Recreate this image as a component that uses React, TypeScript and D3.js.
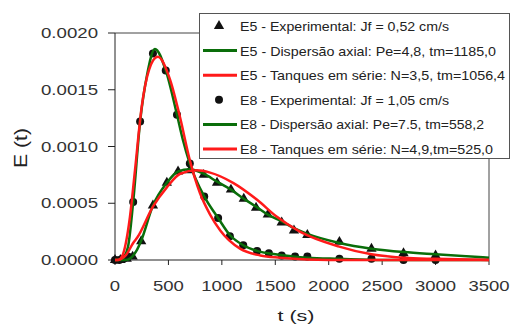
import React from "react"
import * as d3 from "d3"

// experimental points
const tE5 = [0, 50, 110, 165, 245, 355, 485, 590, 700, 830, 955, 1085, 1205, 1320, 1430, 1560, 1675, 1800, 2100, 2400, 2700, 3000]
const eE5 = [0, 0, 0.00001, 0.00003, 0.000165, 0.00048, 0.00068, 0.00078, 0.00079, 0.00075, 0.00068, 0.00062, 0.00054, 0.00046, 0.0004, 0.00033, 0.00026, 0.00022, 0.00016, 0.0001, 0.00006, 0.00004]

const tE8 = [0, 40, 80, 120, 170, 235, 355, 475, 580, 700, 835, 965, 1075, 1200, 1330, 1440, 1560, 1685, 1800, 2100, 2400, 2700, 3000]
const eE8 = [0, 0, 0.00001, 0.00003, 0.00051, 0.00122, 0.00182, 0.00167, 0.00128, 0.00085, 0.00056, 0.00037, 0.00021, 0.00013, 0.00008, 0.00006, 0.00004, 0.00003, 0.00003, 0.00001, 0.00001, 0, 0]

// model curves
const tE5Disp = [0, 100, 150, 200, 245, 355, 485, 590, 700, 830, 955, 1085, 1205, 1320, 1430, 1560, 1675, 1800, 2100, 2400, 2700, 3000, 3500]
const eE5Disp = [0, 0, 0.00002, 0.00008, 0.00017, 0.00048, 0.00068, 0.00078, 0.0008, 0.00076, 0.00069, 0.00062, 0.00054, 0.00047, 0.0004, 0.00034, 0.00028, 0.00023, 0.00015, 0.0001, 0.00007, 0.00005, 0.00002]

const tE5Tanq = [0, 20, 100, 170, 210, 355, 485, 610, 765, 890, 1105, 1330, 1515, 1730, 2090, 2400, 2700, 3000, 3500]
const eE5Tanq = [0, 0, 0.00004, 0.00015, 0.0002, 0.00047, 0.00064, 0.00076, 0.00079, 0.00077, 0.00068, 0.00053, 0.00038, 0.00025, 0.00012, 0.00005, 0.00002, 0.00001, 0]

const tE8Disp = [0, 60, 120, 170, 235, 300, 374, 475, 580, 635, 700, 835, 965, 1075, 1200, 1330, 1500, 1800, 2100, 2500, 3500]
const eE8Disp = [0, 0.000005, 0.00011, 0.00051, 0.00122, 0.00163, 0.00186, 0.00167, 0.00128, 0.00106, 0.00085, 0.00056, 0.00037, 0.00022, 0.00013, 0.00008, 0.00005, 0.00002, 0.00001, 0, 0]

const tE8Tanq = [0, 30, 65, 140, 187, 250, 320, 400, 515, 608, 700, 795, 890, 985, 1170, 1360, 1545, 1800, 2200, 3500]
const eE8Tanq = [0, 0, 0.00003, 0.00038, 0.00079, 0.00135, 0.00168, 0.00179, 0.00159, 0.00126, 0.00088, 0.00059, 0.0004, 0.00026, 0.0001, 0.00004, 0.00002, 0.000005, 0, 0]

const xTicks = [0, 500, 1000, 1500, 2000, 2500, 3000, 3500]
const yTicks = [0, 0.0005, 0.001, 0.0015, 0.002]

const legendLabels = [
  "E5 - Experimental: Jf = 0,52 cm/s",
  "E5 - Dispersão axial: Pe=4,8, tm=1185,0",
  "E5 - Tanques em série: N=3,5, tm=1056,4",
  "E8 - Experimental: Jf = 1,05 cm/s",
  "E8 - Dispersão axial: Pe=7.5, tm=558,2",
  "E8 - Tanques em série: N=4,9,tm=525,0"
]
const legendWidths = [209, 256, 265, 209, 244, 253]

const GREEN = "#0a6e0a"
const RED = "#ff1a1a"
const TXT = "#333"

const width = 512
const height = 327

const x = d3.scaleLinear().domain([0, 3500]).range([115, 489])
const y = d3.scaleLinear().domain([0, 0.002]).range([260, 33])

const line = d3
  .line<[number, number]>()
  .x(d => x(d[0]))
  .y(d => y(d[1]))
  .curve(d3.curveMonotoneX)

const zip = (t: number[], e: number[]) => t.map((v, i) => [v, e[i]] as [number, number])

// stretched-looking numbers like in the original
const numLen = (s: string) => s.split("").reduce((a, c) => a + (c === "." ? 5.5 : 10.3), 0)

const tri = d3.symbol().type(d3.symbolTriangle).size(46)()

export default function App() {
  const curves = [
    { d: zip(tE5Disp, eE5Disp), c: GREEN },
    { d: zip(tE8Disp, eE8Disp), c: GREEN },
    { d: zip(tE5Tanq, eE5Tanq), c: RED },
    { d: zip(tE8Tanq, eE8Tanq), c: RED }
  ]

  return (
    <svg
      width={width}
      height={height}
      style={{ position: "absolute", left: 0, top: 0, background: "white" }}
      fontFamily="'Liberation Sans', Arial, sans-serif"
    >
      <rect width={width} height={height} fill="white" />

      {/* frame */}
      <path
        d={`M${x(0)},${y(0.002)}H${x(3500)}V${y(0)}`}
        fill="none"
        stroke="#444"
        strokeWidth={1}
      />
      <line x1={x(0)} x2={x(0)} y1={y(0.002)} y2={y(0)} stroke="#222" />
      <line x1={x(0)} x2={x(3500)} y1={y(0)} y2={y(0)} stroke="#222" />

      {yTicks.map(v => {
        const s = v.toFixed(4)
        return (
          <g key={s}>
            <line x1={108} x2={x(0)} y1={y(v)} y2={y(v)} stroke="#222" />
            <text
              x={98}
              y={y(v) + 5}
              textAnchor="end"
              fontSize={14}
              fill={TXT}
              textLength={numLen(s)}
              lengthAdjust="spacingAndGlyphs"
            >
              {s}
            </text>
          </g>
        )
      })}

      {xTicks.map(v => (
        <g key={v}>
          <line x1={x(v)} x2={x(v)} y1={y(0)} y2={y(0) + 5} stroke="#222" />
          <text
            x={x(v)}
            y={291}
            textAnchor="middle"
            fontSize={14}
            fill={TXT}
            textLength={numLen(String(v))}
            lengthAdjust="spacingAndGlyphs"
          >
            {v}
          </text>
        </g>
      ))}

      <text
        transform="translate(27,148) rotate(-90)"
        textAnchor="middle"
        fontSize={19}
        fill="#222"
        textLength={40}
        lengthAdjust="spacingAndGlyphs"
      >
        E (t)
      </text>
      <text
        x={296}
        y={321}
        textAnchor="middle"
        fontSize={15}
        fill="#222"
        textLength={37}
        lengthAdjust="spacingAndGlyphs"
      >
        t (s)
      </text>

      {/* markers */}
      {zip(tE5, eE5).map((d, i) => (
        <path key={"t" + i} d={tri!} transform={`translate(${x(d[0])},${y(d[1])})`} fill="#111" />
      ))}
      {zip(tE8, eE8).map((d, i) => (
        <circle key={"c" + i} cx={x(d[0])} cy={y(d[1])} r={4} fill="#111" />
      ))}

      {curves.map((c, i) => (
        <path key={i} d={line(c.d)!} fill="none" stroke={c.c} strokeWidth={2.5} />
      ))}

      {/* legend */}
      <rect x={199.5} y={13.5} width={310} height={145} fill="white" stroke="#555" />
      {legendLabels.map((lab, i) => {
        const cy = 26 + i * 24.6
        const kind = i % 3
        return (
          <g key={lab}>
            {kind === 0 && i === 0 && (
              <path d={tri!} transform={`translate(219,${cy})`} fill="#111" />
            )}
            {kind === 0 && i === 3 && <circle cx={219} cy={cy} r={4} fill="#111" />}
            {kind !== 0 && (
              <line
                x1={203}
                x2={237}
                y1={cy}
                y2={cy}
                stroke={kind === 1 ? GREEN : RED}
                strokeWidth={3}
              />
            )}
            <text
              x={240}
              y={cy + 5}
              fontSize={13}
              fill="#222"
              textLength={legendWidths[i]}
              lengthAdjust="spacingAndGlyphs"
            >
              {lab}
            </text>
          </g>
        )
      })}
    </svg>
  )
}
